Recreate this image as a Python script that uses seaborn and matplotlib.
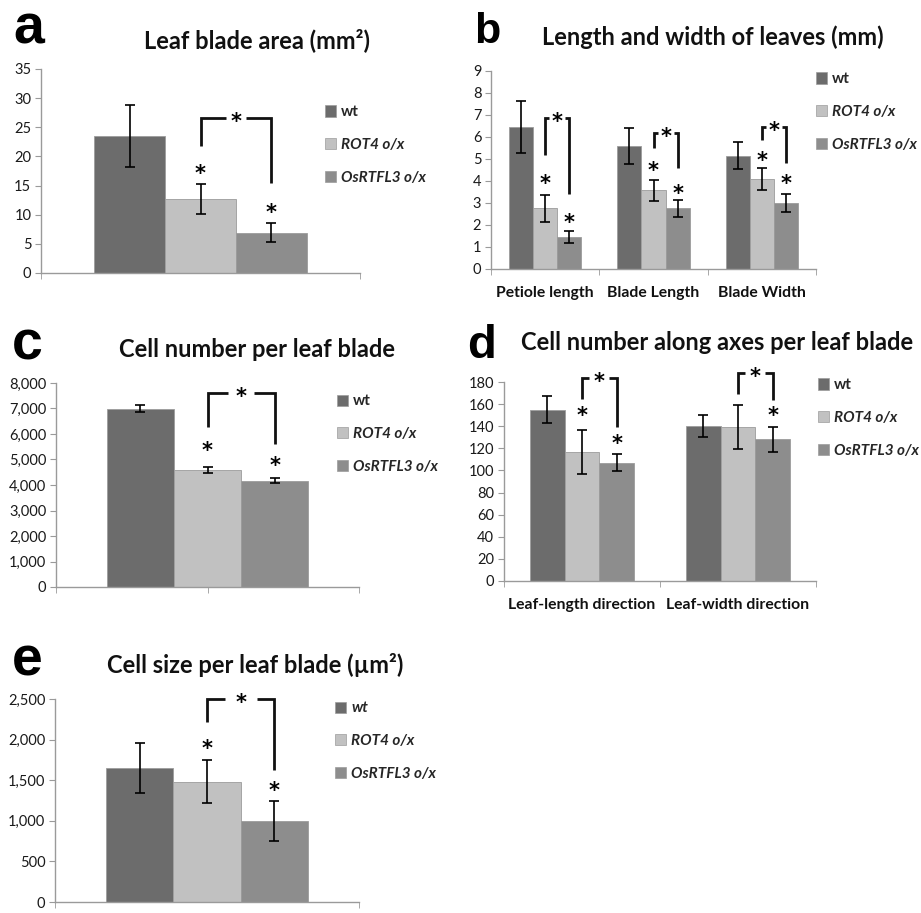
import matplotlib
matplotlib.use("Agg")
import matplotlib.pyplot as plt
import seaborn as sns
import pandas as pd
from matplotlib.ticker import MultipleLocator, FuncFormatter
from matplotlib.patches import Patch

# =========================================================
# DATA
# =========================================================

GENOTYPES = ["wt", "ROT4 o/x", "OsRTFL3 o/x"]
COLORS = ["#6c6c6c", "#c1c1c1", "#8d8d8d"]

# a - leaf blade area
a_categories = ["area"]
a_wt = [23.5]
a_rot4 = [12.7]
a_os = [6.9]
a_wt_sd = [5.3]
a_rot4_sd = [2.65]
a_os_sd = [1.65]
a_star_rot4 = [17.7]
a_star_os = [11.0]
a_brackets = [(26.6, 21.8, 15.5)]

# b - length and width of leaves
b_categories = ["Petiole length", "Blade Length", "Blade Width"]
b_wt = [6.45, 5.6, 5.15]
b_rot4 = [2.75, 3.57, 4.07]
b_os = [1.47, 2.75, 3.0]
b_wt_sd = [1.18, 0.83, 0.6]
b_rot4_sd = [0.6, 0.48, 0.5]
b_os_sd = [0.27, 0.38, 0.42]
b_star_rot4 = [4.05, 4.64, 5.1]
b_star_os = [2.3, 3.6, 4.05]
b_brackets = [(6.86, 5.18, 3.4), (6.18, 5.5, 4.6), (6.45, 5.86, 4.8)]

# c - cell number per leaf blade
c_categories = ["cells"]
c_wt = [6990]
c_rot4 = [4580]
c_os = [4170]
c_wt_sd = [140]
c_rot4_sd = [120]
c_os_sd = [85]
c_star_rot4 = [5490]
c_star_os = [4900]
c_brackets = [(7608, 6275, 5608)]

# d - cell number along axes
d_categories = ["Leaf-length direction", "Leaf-width direction"]
d_wt = [155, 140]
d_rot4 = [117, 139]
d_os = [107, 128]
d_wt_sd = [12, 10]
d_rot4_sd = [20, 20]
d_os_sd = [7.5, 11]
d_star_rot4 = [153, None]
d_star_os = [127.5, 153]
d_brackets = [(183.6, 164.6, 139.3), (188, 169, 163.7)]

# e - cell size
e_categories = ["size"]
e_wt = [1650]
e_rot4 = [1480]
e_os = [1000]
e_wt_sd = [310]
e_rot4_sd = [265]
e_os_sd = [250]
e_star_rot4 = [1934]
e_star_os = [1416]
e_brackets = [(2500, 2217, 1626)]

# =========================================================
# STYLE
# =========================================================

sns.set_style("white")
plt.rcParams["font.family"] = ["Lato", "DejaVu Sans"]

FIG_W, FIG_H = 921, 913
AXIS_GRAY = "#9a9a9a"

fig = plt.figure(figsize=(FIG_W / 100, FIG_H / 100), dpi=100)


def px_box(left, top, right, bottom):
    return [left / FIG_W, 1 - bottom / FIG_H,
            (right - left) / FIG_W, (bottom - top) / FIG_H]


def star(ax, x, y):
    ax.annotate("*", (x, y), xytext=(0, -3), textcoords="offset points",
                ha="center", va="center", fontsize=15, fontweight="bold",
                color="black", family=["DejaVu Sans"], annotation_clip=False)


def draw_panel(ax, cats, wt, rot4, os_, sds, width, ymax, step,
               stars, brackets, gap_px, comma=False, show_labels=False,
               center_tick=False, wt_italic=False, legend_at=(1.0, 1.0)):
    rows = []
    for name, vals in zip(GENOTYPES, [wt, rot4, os_]):
        for c, v in zip(cats, vals):
            rows.append({"category": c, "genotype": name, "value": v})
    df = pd.DataFrame(rows)

    sns.barplot(
        data=df, x="category", y="value", hue="genotype",
        order=cats, hue_order=GENOTYPES, palette=COLORS,
        width=width, errorbar=None, ax=ax,
        edgecolor="#9c9c9c", linewidth=0.6, legend=False
    )

    centers = []
    for container, vals, sd in zip(ax.containers, [wt, rot4, os_], sds):
        xs = [p.get_x() + p.get_width() / 2 for p in container.patches]
        centers.append(xs)
        ax.errorbar(xs, vals, yerr=sd, fmt="none", ecolor="black",
                    elinewidth=1.2, capsize=3.5, capthick=1.2, zorder=5)

    ax.set_xlim(-0.5, len(cats) - 0.5)
    ax.set_ylim(0, ymax)
    ax.yaxis.set_major_locator(MultipleLocator(step))
    if comma:
        ax.yaxis.set_major_formatter(FuncFormatter(lambda v, p: f"{int(v):,}"))
    ax.set_xlabel("")
    ax.set_ylabel("")

    sns.despine(ax=ax)
    for side in ["left", "bottom"]:
        ax.spines[side].set_color(AXIS_GRAY)
        ax.spines[side].set_linewidth(1.0)

    ax.tick_params(axis="y", left=True, length=4, color=AXIS_GRAY,
                   labelsize=10.5, labelcolor="#1a1a1a", pad=3)
    bounds = [i - 0.5 for i in range(len(cats) + 1)]
    if center_tick:
        bounds = sorted(bounds + [0])
    ax.set_xticks(bounds, minor=True)
    ax.tick_params(axis="x", which="minor", bottom=True, length=4,
                   color=AXIS_GRAY)
    if show_labels:
        ax.set_xticks(range(len(cats)))
        ax.set_xticklabels(cats, fontsize=11.3, fontweight="bold",
                           color="#111111")
        ax.tick_params(axis="x", which="major", length=0, pad=12)
    else:
        ax.set_xticks([])

    # stars above error bars
    for xs, ys in zip(centers[1:], stars):
        for x, y in zip(xs, ys):
            if y is not None:
                star(ax, x, y)

    # significance brackets between ROT4 and OsRTFL3
    ax_w_px = ax.get_position().width * FIG_W
    gap = gap_px * len(cats) / ax_w_px
    for x1, x2, (top, lb, rb) in zip(centers[1], centers[2], brackets):
        xm = (x1 + x2) / 2
        kw = dict(color="#111111", lw=2.0, clip_on=False,
                  solid_capstyle="butt", solid_joinstyle="miter")
        ax.plot([x1, x1, xm - gap], [lb, top, top], **kw)
        ax.plot([xm + gap, x2, x2], [top, top, rb], **kw)
        star(ax, xm, top)

    handles = [Patch(facecolor=c, edgecolor="#9c9c9c", linewidth=0.5)
               for c in COLORS]
    leg = ax.legend(handles, GENOTYPES, loc="upper left",
                    bbox_to_anchor=legend_at, frameon=False,
                    borderpad=0, borderaxespad=0,
                    handlelength=0.75, handleheight=0.75,
                    handletextpad=0.3, labelspacing=1.23,
                    prop={"size": 11, "weight": "bold"})
    for i, t in enumerate(leg.get_texts()):
        if i > 0 or wt_italic:
            t.set_style("italic")
    return ax


# =========================================================
# PANELS
# =========================================================

ax_a = fig.add_axes(px_box(41, 69, 360, 273))
draw_panel(ax_a, a_categories, a_wt, a_rot4, a_os,
           [a_wt_sd, a_rot4_sd, a_os_sd], 0.665, 35, 5,
           [a_star_rot4, a_star_os], a_brackets, 10,
           legend_at=(0.89, 0.822))

ax_b = fig.add_axes(px_box(491, 71, 816, 269))
draw_panel(ax_b, b_categories, b_wt, b_rot4, b_os,
           [b_wt_sd, b_rot4_sd, b_os_sd], 0.67, 9, 1,
           [b_star_rot4, b_star_os], b_brackets, 8,
           show_labels=True, legend_at=(1.0, 0.993))

ax_c = fig.add_axes(px_box(56, 383, 359, 587))
draw_panel(ax_c, c_categories, c_wt, c_rot4, c_os,
           [c_wt_sd, c_rot4_sd, c_os_sd], 0.665, 8000, 1000,
           [c_star_rot4, c_star_os], c_brackets, 13, comma=True,
           center_tick=True, legend_at=(0.927, 0.944))

ax_d = fig.add_axes(px_box(504, 382, 816, 581))
draw_panel(ax_d, d_categories, d_wt, d_rot4, d_os,
           [d_wt_sd, d_rot4_sd, d_os_sd], 0.67, 180, 20,
           [d_star_rot4, d_star_os], d_brackets, 10,
           show_labels=True, legend_at=(1.006, 1.018))

ax_e = fig.add_axes(px_box(55, 699, 359, 902))
draw_panel(ax_e, e_categories, e_wt, e_rot4, e_os,
           [e_wt_sd, e_rot4_sd, e_os_sd], 0.665, 2500, 500,
           [e_star_rot4, e_star_os], e_brackets, 16, comma=True,
           wt_italic=True, legend_at=(0.921, 0.988))

# =========================================================
# TITLES AND PANEL LETTERS
# =========================================================

titles = [
    (257, 48, "Leaf blade area (mm²)"),
    (713, 45, "Length and width of leaves (mm)"),
    (257, 357, "Cell number per leaf blade"),
    (717, 350, "Cell number along axes per leaf blade"),
    (255, 673, "Cell size per leaf blade (µm²)"),
]
for x, y, t in titles:
    fig.text(x / FIG_W, 1 - y / FIG_H, t, ha="center", va="baseline",
             fontsize=17, fontweight="bold", color="#111111")

letters = [
    (13, 43, "a", 40),
    (474, 43, "b", 31),
    (12, 360, "c", 40),
    (467, 358, "d", 34),
    (12, 675, "e", 40),
]
for x, y, t, s in letters:
    fig.text(x / FIG_W, 1 - y / FIG_H, t, ha="left", va="baseline",
             fontsize=s, fontweight="bold", color="black",
             family=["Liberation Sans", "DejaVu Sans"])

plt.savefig("out.png", dpi=100)
